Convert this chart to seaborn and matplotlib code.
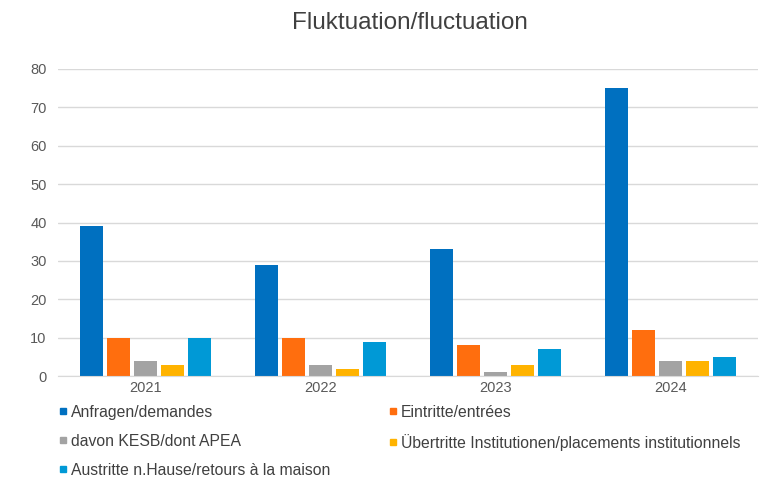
import numpy as np
import pandas as pd
import matplotlib.pyplot as plt
import seaborn as sns
from matplotlib.lines import Line2D

years = ["2021", "2022", "2023", "2024"]
series = ["Anfragen/demandes", "Eintritte/entrées", "davon KESB/dont APEA",
          "Übertritte Institutionen/placements institutionnels",
          "Austritte n.Hause/retours à la maison"]
anfragen = [39, 29, 33, 75]
eintritte = [10, 10, 8, 12]
kesb = [4, 3, 1, 4]
uebertritte = [3, 2, 3, 4]
austritte = [10, 9, 7, 5]
colors = ["#0070C0", "#FF6E0E", "#A3A3A3", "#FFB300", "#0099D6"]

df = pd.DataFrame({
    "year": years * 5,
    "series": np.repeat(series, 4),
    "value": anfragen + eintritte + kesb + uebertritte + austritte,
})

sns.set_style("white")
plt.rcParams["font.family"] = ["Liberation Sans", "DejaVu Sans"]

fig = plt.figure(figsize=(7.8, 4.78), dpi=100)
ax = fig.add_axes([0.074, 0.213, 0.898, 0.643])
sns.barplot(data=df, x="year", y="value", hue="series", hue_order=series,
            palette=colors, saturation=1, width=0.77, linewidth=0,
            legend=False, ax=ax)

# thin white gaps between bars like the original
for p in ax.patches:
    w = p.get_width()
    p.set_x(p.get_x() + w * 0.08)
    p.set_width(w * 0.84)

ax.set_ylim(0, 80)
ax.set_yticks(range(0, 81, 10))
ax.yaxis.grid(True, color="#D9D9D9", linewidth=1)
ax.set_axisbelow(True)
for s in ["top", "right", "left"]:
    ax.spines[s].set_visible(False)
ax.spines["bottom"].set_color("#D9D9D9")
ax.tick_params(axis="both", length=0, labelsize=10.5, colors="#595959")
ax.tick_params(axis="y", pad=8)
ax.set_xlabel("")
ax.set_ylabel("")
fig.suptitle("Fluktuation/fluctuation", x=0.525, y=0.975, fontsize=17.5, color="#404040")

# legend is filled row by row in the original
order = [0, 2, 4, 1, 3]
handles = [Line2D([], [], marker="s", linestyle="", color=colors[i], markersize=5) for i in order]
labels = [series[i] for i in order]
fig.legend(handles, labels, ncol=2, loc="upper left",
           bbox_to_anchor=(0.067, 0.0, 0.89, 0.166), mode="expand",
           frameon=False, fontsize=11.3, handlelength=0.6, handletextpad=0.2,
           labelspacing=0.88, borderaxespad=0, labelcolor="#404040")

plt.savefig("out.png", dpi=100)
plt.close()
